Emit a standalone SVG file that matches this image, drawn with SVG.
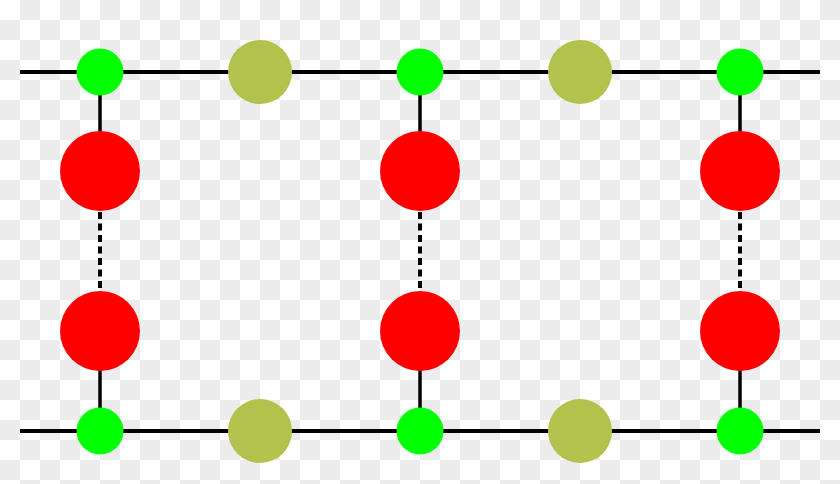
<svg xmlns="http://www.w3.org/2000/svg" width="840" height="484" viewBox="0 0 840 484">
  <defs>
    <pattern id="checker" x="0" y="0" width="40" height="40" patternUnits="userSpaceOnUse">
      <rect width="40" height="40" fill="#ffffff"/>
      <rect x="20" y="0" width="20" height="20" fill="#ececec"/>
      <rect x="0" y="20" width="20" height="20" fill="#ececec"/>
    </pattern>
    <style>
      .wire { stroke: #000; stroke-width: 4; fill: none; }
      .link { stroke: #000; stroke-width: 3.5; fill: none; }
      .dash { stroke: #000; stroke-width: 4; stroke-dasharray: 7 4.5; fill: none; }
      .g { fill: #00ff00; }
      .o { fill: #b3c24c; }
      .r { fill: #ff0000; }
    </style>
  </defs>
  <rect width="840" height="484" fill="url(#checker)"/>
  <g id="connectors">
    <line class="wire" x1="20" y1="72" x2="820" y2="72"/>
    <line class="wire" x1="20" y1="431" x2="820" y2="431"/>
    <line class="link" x1="100" y1="72" x2="100" y2="140"/>
    <line class="link" x1="420" y1="72" x2="420" y2="140"/>
    <line class="link" x1="740" y1="72" x2="740" y2="140"/>
    <line class="link" x1="100" y1="360" x2="100" y2="431"/>
    <line class="link" x1="420" y1="360" x2="420" y2="431"/>
    <line class="link" x1="740" y1="360" x2="740" y2="431"/>
    <line class="dash" x1="100" y1="212" x2="100" y2="291"/>
    <line class="dash" x1="420" y1="212" x2="420" y2="291"/>
    <line class="dash" x1="740" y1="212" x2="740" y2="291"/>
  </g>
  <g id="g-top-1"><circle class="g" cx="100" cy="72" r="23.5"/></g>
  <g id="o-top-1"><circle class="o" cx="260" cy="72" r="32"/></g>
  <g id="g-top-2"><circle class="g" cx="420" cy="72" r="23.5"/></g>
  <g id="o-top-2"><circle class="o" cx="580" cy="72" r="32"/></g>
  <g id="g-top-3"><circle class="g" cx="740" cy="72" r="23.5"/></g>
  <g id="r-up-1"><circle class="r" cx="100" cy="171" r="40"/></g>
  <g id="r-up-2"><circle class="r" cx="420" cy="171" r="40"/></g>
  <g id="r-up-3"><circle class="r" cx="740" cy="171" r="40"/></g>
  <g id="r-low-1"><circle class="r" cx="100" cy="331" r="40"/></g>
  <g id="r-low-2"><circle class="r" cx="420" cy="331" r="40"/></g>
  <g id="r-low-3"><circle class="r" cx="740" cy="331" r="40"/></g>
  <g id="g-bot-1"><circle class="g" cx="100" cy="431" r="23.5"/></g>
  <g id="o-bot-1"><circle class="o" cx="260" cy="431" r="32"/></g>
  <g id="g-bot-2"><circle class="g" cx="420" cy="431" r="23.5"/></g>
  <g id="o-bot-2"><circle class="o" cx="580" cy="431" r="32"/></g>
  <g id="g-bot-3"><circle class="g" cx="740" cy="431" r="23.5"/></g>
</svg>
